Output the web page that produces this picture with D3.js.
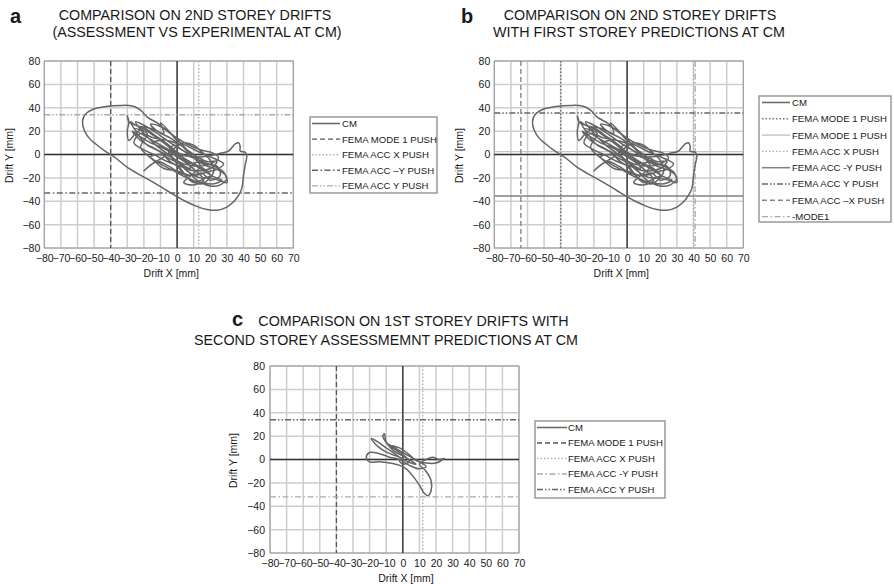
<!DOCTYPE html>
<html><head><meta charset="utf-8">
<script src="https://cdn.jsdelivr.net/npm/d3@7"></script>
<style>
body{margin:0;background:#fff}
svg{display:block}
text{font-family:"Liberation Sans",Arial,Helvetica,sans-serif;fill:#1a1a1a}
</style>
</head><body>
<svg id="fig" width="894" height="584"></svg>
<script>
// ---- data ----
const xTicks = d3.range(-80, 71, 10);
const yTicks = d3.range(-80, 81, 20);

// Centre-of-mass drift orbit, second storey [x, y] in mm
const cmSecond = [
  [0,0],[-3,4],[-8,10],[-14,16],[-20,22],[-25,25],[-29,28],[-30,33],[-29,28],[-30,20],[-29,12],
  [-25,18],[-20,22],[-12,15],[-5,8],[0,2],[8,-2],[15,-6],[22,-10],[28,-15],[30,-24],[25,-22],
  [18,-20],[10,-24],[5,-18],[0,-10],[-5,-5],[-10,2],[-18,8],[-22,14],[-28,28],[-25,25],[-15,22],
  [-8,18],[-10,27],[-5,20],[0,12],[5,8],[12,3],[20,-2],[25,-5],[28,-8],[25,-12],[18,-15],[10,-18],
  [2,-16],[-5,-10],[-12,-6],[-20,-14],[-15,-8],[-8,-2],[-2,5],[4,10],[10,8],[15,2],[20,-5],
  [22,-15],[15,-25],[8,-22],[2,-12],[-3,-3],[-10,5],[-18,15],[-25,28],[-20,25],[-12,18],[-4,10],
  [5,2],[12,-5],[18,-10],[26,-14],[30,-20],[26,-26],[20,-27],[12,-22],[5,-12],[-2,-4],[-8,3],
  [-14,10],[-10,12],[-3,4],[3,-2],[10,-8],[16,-12],[20,-18],[14,-20],[6,-14],[0,-6],[-5,2],
  [-2,8],[4,3],[10,-2],[15,-4],[8,-8],[2,-4],[-2,0],[0,0],
  [10,-2],[20,-1],[26,1],[31,3],[35,9],[37,10],[38,7],[38,3],[41,2],[42,-1],[41,-9],[40,-18],
  [39,-29],[37,-35],[34,-40.5],[30,-45],[24,-47.7],[18,-47],[13,-45],[5,-40],[-6,-31],[-14,-24],
  [-21,-18.5],[-30,-11],[-37,-3],[-44,3.5],[-49,9],[-53,14],[-56,21],[-57,28],[-55.5,34],
  [-51,38.5],[-43,41],[-34,42],[-27,41.5],[-22,38],
  [-18,32],[-12,27],[-6,20],[0,14],[6,9],[14,4],[22,1],[25,-3],[20,-8],[12,-10],[4,-8],[-4,-2],
  [-12,4],[-22,12],[-27,20],[-23,16],[-16,10],[-9,6],[-2,0],[6,-6],[14,-12],[22,-19],[27,-22],
  [22,-25],[14,-24],[6,-20],[-2,-14],[-10,-8],[-16,-2],[-10,0],[-4,-4],[2,-8],[8,-12],[4,-3],[0,0],
  [-26,22],[-18,18],[-22,6],[-15,-4],[-8,-12],[0,-14],[8,-18],[15,-16],[20,-22],[26,-18],[24,-10],
  [16,-8],[10,0],[4,6],[-4,14],[-12,20],[-16,26],[-10,24],[-2,16],[6,4],[12,-2],[18,-6],[24,-6],
  [20,-12],[10,-14],[2,-10],[-6,-6],[-14,0],[-20,4],[-26,10],[-22,18],[-14,14],[-6,12],[2,8],
  [8,0],[14,-10],[10,-16],[4,-24],[10,-26],[16,-22],[8,-10],[0,-2]
];

// Centre-of-mass drift orbit, first storey [x, y] in mm
const cmFirst = [
  [0,0],[-5,5],[-10,10],[-15,15],[-19,18],[-17,14],[-12,8],[-6,4],[-2,2],[3,-2],[8,-4],[5,-1],
  [0,3],[-6,8],[-12,20],[-11,22],[-10,15],[-5,10],[0,6],[5,2],[10,-2],[14,-6],[10,-8],[4,-5],
  [-2,0],[-8,2],[-14,5],[-20,6],[-22,2],[-20,-2],[-14,-2],[-8,-3],[-2,-5],[2,-8],[6,-14],
  [10,-22],[13,-29],[15,-31],[17,-27],[17,-18],[14,-10],[10,-4],[14,0],[18,2],[22,0],[25,1],
  [20,-3],[14,-3],[8,-1],[4,4],[-2,10],[-8,12],[-4,8],[2,2],[4,-2],[0,-4],[-2,-1],[0,0]
];

// Legend labels and the limit each assessment line marks (axis, mm)
const labelsA = ["CM", "FEMA MODE 1 PUSH", "FEMA ACC X PUSH", "FEMA ACC \u2013Y PUSH", "FEMA ACC Y PUSH"];
const limitsA = [null, ["x", -40], ["x", 13], ["y", -33], ["y", 34]];

const labelsB = ["CM", "FEMA MODE 1 PUSH", "FEMA MODE 1 PUSH", "FEMA ACC X PUSH", "FEMA ACC -Y PUSH",
                 "FEMA ACC Y PUSH", "FEMA ACC \u2013X PUSH", "-MODE1"];
const limitsB = [null, ["x", -40], ["y", 2.5], ["x", 40], ["y", -35.5], ["y", 35.5], ["x", -64], ["x", 41]];

const labelsC = ["CM", "FEMA MODE 1 PUSH", "FEMA ACC X PUSH", "FEMA ACC -Y PUSH", "FEMA ACC Y PUSH"];
const limitsC = [null, ["x", -40], ["x", 12], ["y", -32], ["y", 34]];

// ---- line styles ----
const ST = {
  cm:        {c:"#656565", w:1.5, d:null},
  dashDark:  {c:"#555",    w:1.3, d:"5,3"},
  dashMid:   {c:"#888",    w:1.4, d:"5,3"},
  dotLight:  {c:"#b0b0b0", w:1.4, d:"1.5,2"},
  dotDark:   {c:"#777",    w:1.6, d:"1.5,2"},
  ddLight:   {c:"#aaa",    w:1.3, d:"6,2.5,1.5,2.5"},
  ddDark:    {c:"#666",    w:1.4, d:"6,2.5,1.5,2.5"},
  dddLight:  {c:"#aaa",    w:1.3, d:"6,2,1.5,2,1.5,2"},
  dddDark:   {c:"#666",    w:1.4, d:"6,2,1.5,2,1.5,2"},
  solidLight:{c:"#c4c4c4", w:1.4, d:null},
  solidMid:  {c:"#808080", w:1.5, d:null}
};
const stylesA = ["cm", "dashDark", "dotLight", "ddDark", "dddLight"];
const stylesB = ["cm", "dotDark", "solidLight", "dotLight", "solidMid", "dddDark", "dashMid", "ddLight"];
const stylesC = ["cm", "dashDark", "dotLight", "ddLight", "dddDark"];

const svg = d3.select("#fig");
svg.append("rect").attr("width", 894).attr("height", 584).attr("fill", "#fff");

const W = 249, H = 187;

function drawPanel(p) {
  const g = svg.append("g").attr("transform", `translate(${p.left},${p.top})`);
  const x = d3.scaleLinear().domain([-80, 70]).range([0, W]);
  const y = d3.scaleLinear().domain([-80, 80]).range([H, 0]);

  // grid
  g.append("g").selectAll("line").data(xTicks).join("line")
    .attr("x1", d => x(d)).attr("x2", d => x(d)).attr("y1", 0).attr("y2", H)
    .attr("stroke", "#cdcdcd").attr("stroke-width", 1.5);
  g.append("g").selectAll("line").data(yTicks).join("line")
    .attr("y1", d => y(d)).attr("y2", d => y(d)).attr("x1", 0).attr("x2", W)
    .attr("stroke", "#cdcdcd").attr("stroke-width", 1.5);
  g.append("rect").attr("width", W).attr("height", H).attr("fill", "none")
    .attr("stroke", "#9a9a9a").attr("stroke-width", 1);

  // zero axes
  g.append("line").attr("x1", x(0)).attr("x2", x(0)).attr("y1", 0).attr("y2", H)
    .attr("stroke", "#333").attr("stroke-width", 1.4);
  g.append("line").attr("x1", 0).attr("x2", W).attr("y1", y(0)).attr("y2", y(0))
    .attr("stroke", "#333").attr("stroke-width", 1.4);

  // assessment limits
  p.limits.forEach((lim, i) => {
    if (!lim) return;
    const s = ST[p.styles[i]];
    const ln = g.append("line").attr("stroke", s.c).attr("stroke-width", s.w)
      .attr("stroke-dasharray", s.d);
    if (lim[0] === "x") ln.attr("x1", x(lim[1])).attr("x2", x(lim[1])).attr("y1", 0).attr("y2", H);
    else ln.attr("y1", y(lim[1])).attr("y2", y(lim[1])).attr("x1", 0).attr("x2", W);
  });

  // measured orbit
  const line = d3.line().x(d => x(d[0])).y(d => y(d[1])).curve(d3.curveCatmullRom.alpha(0.5));
  g.append("path").datum(p.cm).attr("d", line).attr("fill", "none")
    .attr("stroke", ST.cm.c).attr("stroke-width", ST.cm.w).attr("stroke-linejoin", "round");

  // axes
  const ax = g.append("g").attr("transform", `translate(0,${H})`)
    .call(d3.axisBottom(x).tickValues(xTicks).tickSize(0).tickPadding(7));
  const ay = g.append("g").call(d3.axisLeft(y).tickValues(yTicks).tickSize(0).tickPadding(p.ypad));
  [ax, ay].forEach(a => {
    a.select(".domain").remove();
    a.selectAll("text").attr("font-size", 10.5).attr("fill", "#1a1a1a")
      .attr("font-family", '"Liberation Sans",Arial,sans-serif');
  });

  g.append("text").attr("x", p.xLabelX).attr("y", H + 29).attr("text-anchor", "middle")
    .attr("font-size", 10.5).text("Drift X [mm]");
  g.append("text").attr("transform", `translate(${p.yLabelX},${H / 2 + 1}) rotate(-90)`)
    .attr("text-anchor", "middle").attr("font-size", 10.5).text("Drift Y [mm]");

  // legend
  const L = p.legend;
  const lg = svg.append("g").attr("transform", `translate(${L.x},${L.y})`);
  lg.append("rect").attr("width", L.w).attr("height", L.h).attr("fill", "#fff")
    .attr("stroke", "#8a8a8a").attr("stroke-width", 1.3);
  p.labels.forEach((lab, i) => {
    const s = ST[p.styles[i]];
    const cy = L.first + i * L.step;
    lg.append("line").attr("x1", L.sx0).attr("x2", L.sx1).attr("y1", cy).attr("y2", cy)
      .attr("stroke", s.c).attr("stroke-width", s.w).attr("stroke-dasharray", s.d);
    lg.append("text").attr("x", L.tx).attr("y", cy + 3.4).attr("font-size", 9.6).text(lab);
  });
}

function title(letter, lx, ly, lines) {
  svg.append("text").attr("x", lx).attr("y", ly).attr("font-size", 20).attr("font-weight", "bold")
    .attr("fill", "#111").text(letter);
  lines.forEach(l => {
    svg.append("text").attr("x", l[0]).attr("y", l[1]).attr("text-anchor", "middle")
      .attr("font-size", 14.3).attr("fill", "#1a1a1a").text(l[2]);
  });
}

title("a", 10, 23, [[195, 20, "COMPARISON ON 2ND STOREY DRIFTS"], [197, 37, "(ASSESSMENT VS EXPERIMENTAL AT CM)"]]);
title("b", 461, 23, [[640, 20, "COMPARISON ON 2ND STOREY DRIFTS"], [639, 37, "WITH FIRST STOREY PREDICTIONS AT CM"]]);
title("c", 232, 326, [[413.5, 326, "COMPARISON ON 1ST STOREY DRIFTS WITH"], [386, 345, "SECOND STOREY ASSESSMEMNT PREDICTIONS AT CM"]]);

drawPanel({left: 44.3, top: 61, cm: cmSecond, labels: labelsA, limits: limitsA, styles: stylesA,
  ypad: 4, xLabelX: 127, yLabelX: -31,
  legend: {x: 310, y: 117, w: 127, h: 76, first: 6.5, step: 15.6, sx0: 2, sx1: 30, tx: 32}});
drawPanel({left: 494.3, top: 61, cm: cmSecond, labels: labelsB, limits: limitsB, styles: stylesB,
  ypad: 4, xLabelX: 127, yLabelX: -31,
  legend: {x: 759, y: 96, w: 132, h: 126, first: 6.5, step: 16.3, sx0: 3, sx1: 31, tx: 33}});
drawPanel({left: 270, top: 366, cm: cmFirst, labels: labelsC, limits: limitsC, styles: stylesC,
  ypad: 5, xLabelX: 136, yLabelX: -33,
  legend: {x: 535, y: 421, w: 130, h: 77, first: 6.5, step: 15.5, sx0: 2, sx1: 32, tx: 33}});
</script>
</body></html>
